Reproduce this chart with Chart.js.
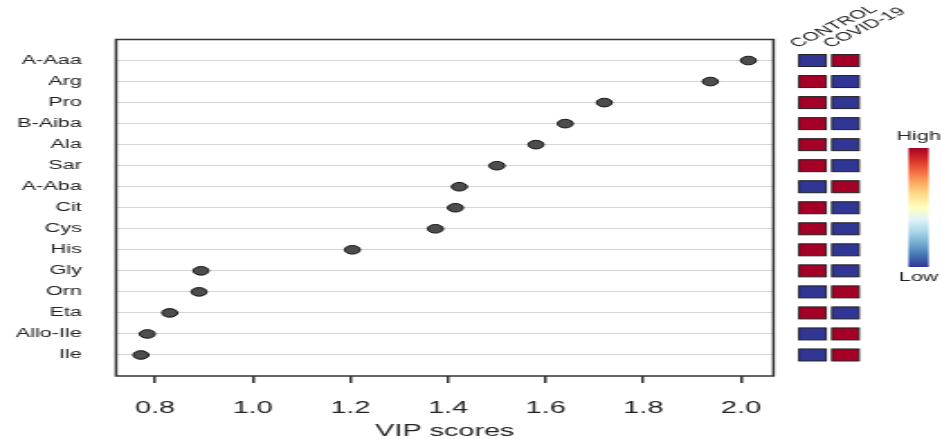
<!DOCTYPE html>
<html>
<head>
<meta charset="utf-8">
<script src="https://cdn.jsdelivr.net/npm/chart.js@4.4.0/dist/chart.umd.min.js"></script>
<style>
  html, body { margin: 0; padding: 0; background: #fff; overflow: hidden; }
  /* the reference is stretched sideways, so draw narrow and stretch the canvas */
  #wrap { width: 523px; height: 439px; transform: scaleX(1.8011); transform-origin: 0 0; }
</style>
</head>
<body>
<div id="wrap"><canvas id="vipChart" width="523" height="439" style="width:523px;height:439px"></canvas></div>
<script>
const metabolites = ['A-Aaa', 'Arg', 'Pro', 'B-Aiba', 'Ala', 'Sar', 'A-Aba', 'Cit', 'Cys', 'His', 'Gly', 'Orn', 'Eta', 'Allo-Ile', 'Ile'];
const vipScores = [2.015, 1.937, 1.72, 1.64, 1.58, 1.50, 1.423, 1.415, 1.374, 1.204, 0.894, 0.89, 0.83, 0.784, 0.771];
const groupNames = ['CONTROL', 'COVID-19'];
const controlLevel = ['low', 'high', 'high', 'high', 'high', 'high', 'low', 'high', 'high', 'high', 'high', 'low', 'high', 'low', 'low'];
const covidLevel = ['high', 'low', 'low', 'low', 'low', 'low', 'high', 'low', 'low', 'low', 'low', 'high', 'low', 'high', 'high'];
const xTicks = [0.8, 1.0, 1.2, 1.4, 1.6, 1.8, 2.0];
const legendLabels = ['High', 'Low'];

const levelColors = { high: '#a50026', low: '#313695' };
const rampColors = ['#a50026', '#d73027', '#f46d43', '#fdae61', '#fee090', '#ffffbf', '#e0f3f8', '#abd9e9', '#74add1', '#4575b4', '#313695'];

// heatmap cells, group labels, colour key and panel frame
const sidePanel = {
    id: 'sidePanel',
    afterDraw(chart) {
        const ctx = chart.ctx;
        const area = chart.chartArea;
        const yScale = chart.scales.y;

        ctx.save();
        ctx.strokeStyle = '#333';
        ctx.lineWidth = 1.5;
        ctx.strokeRect(area.left, area.top, area.right - area.left, area.bottom - area.top);

        const cols = [
            { x: 443.6, levels: controlLevel },
            { x: 461.9, levels: covidLevel }
        ];
        const cellW = 15, cellH = 12;
        ctx.lineWidth = 1;
        ctx.strokeStyle = '#222';
        cols.forEach(col => {
            col.levels.forEach((lvl, i) => {
                const yc = yScale.getPixelForValue(i + 1);
                ctx.fillStyle = levelColors[lvl];
                ctx.fillRect(col.x, yc - cellH / 2, cellW, cellH);
                ctx.strokeRect(col.x, yc - cellH / 2, cellW, cellH);
            });
        });

        ctx.fillStyle = '#222';
        ctx.font = '12px "Liberation Sans", Arial, sans-serif';
        ctx.textAlign = 'left';
        ctx.textBaseline = 'alphabetic';
        groupNames.forEach((name, i) => {
            ctx.save();
            ctx.translate(cols[i].x - 1, 48);
            ctx.rotate(-40 * Math.PI / 180);
            ctx.fillText(name, 0, 0);
            ctx.restore();
        });

        const barX = 504.4, barW = 11.2, barTop = 148, barBottom = 267;
        const grad = ctx.createLinearGradient(0, barTop, 0, barBottom);
        rampColors.forEach((c, i) => grad.addColorStop(i / (rampColors.length - 1), c));
        ctx.fillStyle = grad;
        ctx.fillRect(barX, barTop, barW, barBottom - barTop);

        ctx.fillStyle = '#222';
        ctx.textAlign = 'center';
        ctx.textBaseline = 'middle';
        ctx.fillText(legendLabels[0], barX + barW / 2, 137);
        ctx.fillText(legendLabels[1], barX + barW / 2, 278);
        ctx.restore();
    }
};

const ctx = document.getElementById('vipChart').getContext('2d');
new Chart(ctx, {
    type: 'scatter',
    data: {
        datasets: [{
            label: 'VIP',
            data: vipScores.map((v, i) => ({ x: v, y: i + 1 })),
            backgroundColor: '#4d4d4d',
            borderColor: '#111',
            borderWidth: 1,
            pointRadius: 4.3,
            pointHoverRadius: 4.3
        }]
    },
    options: {
        responsive: false,
        devicePixelRatio: 1,
        animation: false,
        layout: { padding: { left: 0, right: 93.56, top: 39.5, bottom: 0 } },
        plugins: { legend: { display: false }, tooltip: { enabled: false } },
        scales: {
            x: {
                type: 'linear',
                min: 0.7201,
                max: 2.0664,
                afterFit: scale => { scale.height = 63; },
                afterBuildTicks: scale => { scale.ticks = xTicks.map(v => ({ value: v })); },
                border: { display: false },
                grid: { drawOnChartArea: false, drawTicks: true, tickLength: 7, color: '#333', lineWidth: 1.5 },
                ticks: {
                    padding: 16,
                    color: '#222',
                    font: { family: '"Liberation Sans", Arial, sans-serif', size: 16 },
                    callback: v => v.toFixed(1),
                    maxRotation: 0
                },
                title: {
                    display: true,
                    text: 'VIP scores',
                    color: '#222',
                    font: { family: '"Liberation Sans", Arial, sans-serif', size: 16 },
                    padding: { top: 0, bottom: -2 }
                }
            },
            y: {
                type: 'linear',
                min: 0,
                max: 16,
                reverse: true,
                afterFit: scale => { scale.width = 64.44; },
                afterBuildTicks: scale => { scale.ticks = metabolites.map((m, i) => ({ value: i + 1 })); },
                border: { display: false },
                grid: { drawTicks: false, color: '#d6d6d6', lineWidth: 1 },
                ticks: {
                    padding: 19,
                    color: '#222',
                    font: { family: '"Liberation Sans", Arial, sans-serif', size: 12 },
                    callback: v => metabolites[v - 1]
                }
            }
        }
    },
    plugins: [sidePanel]
});
</script>
</body>
</html>
